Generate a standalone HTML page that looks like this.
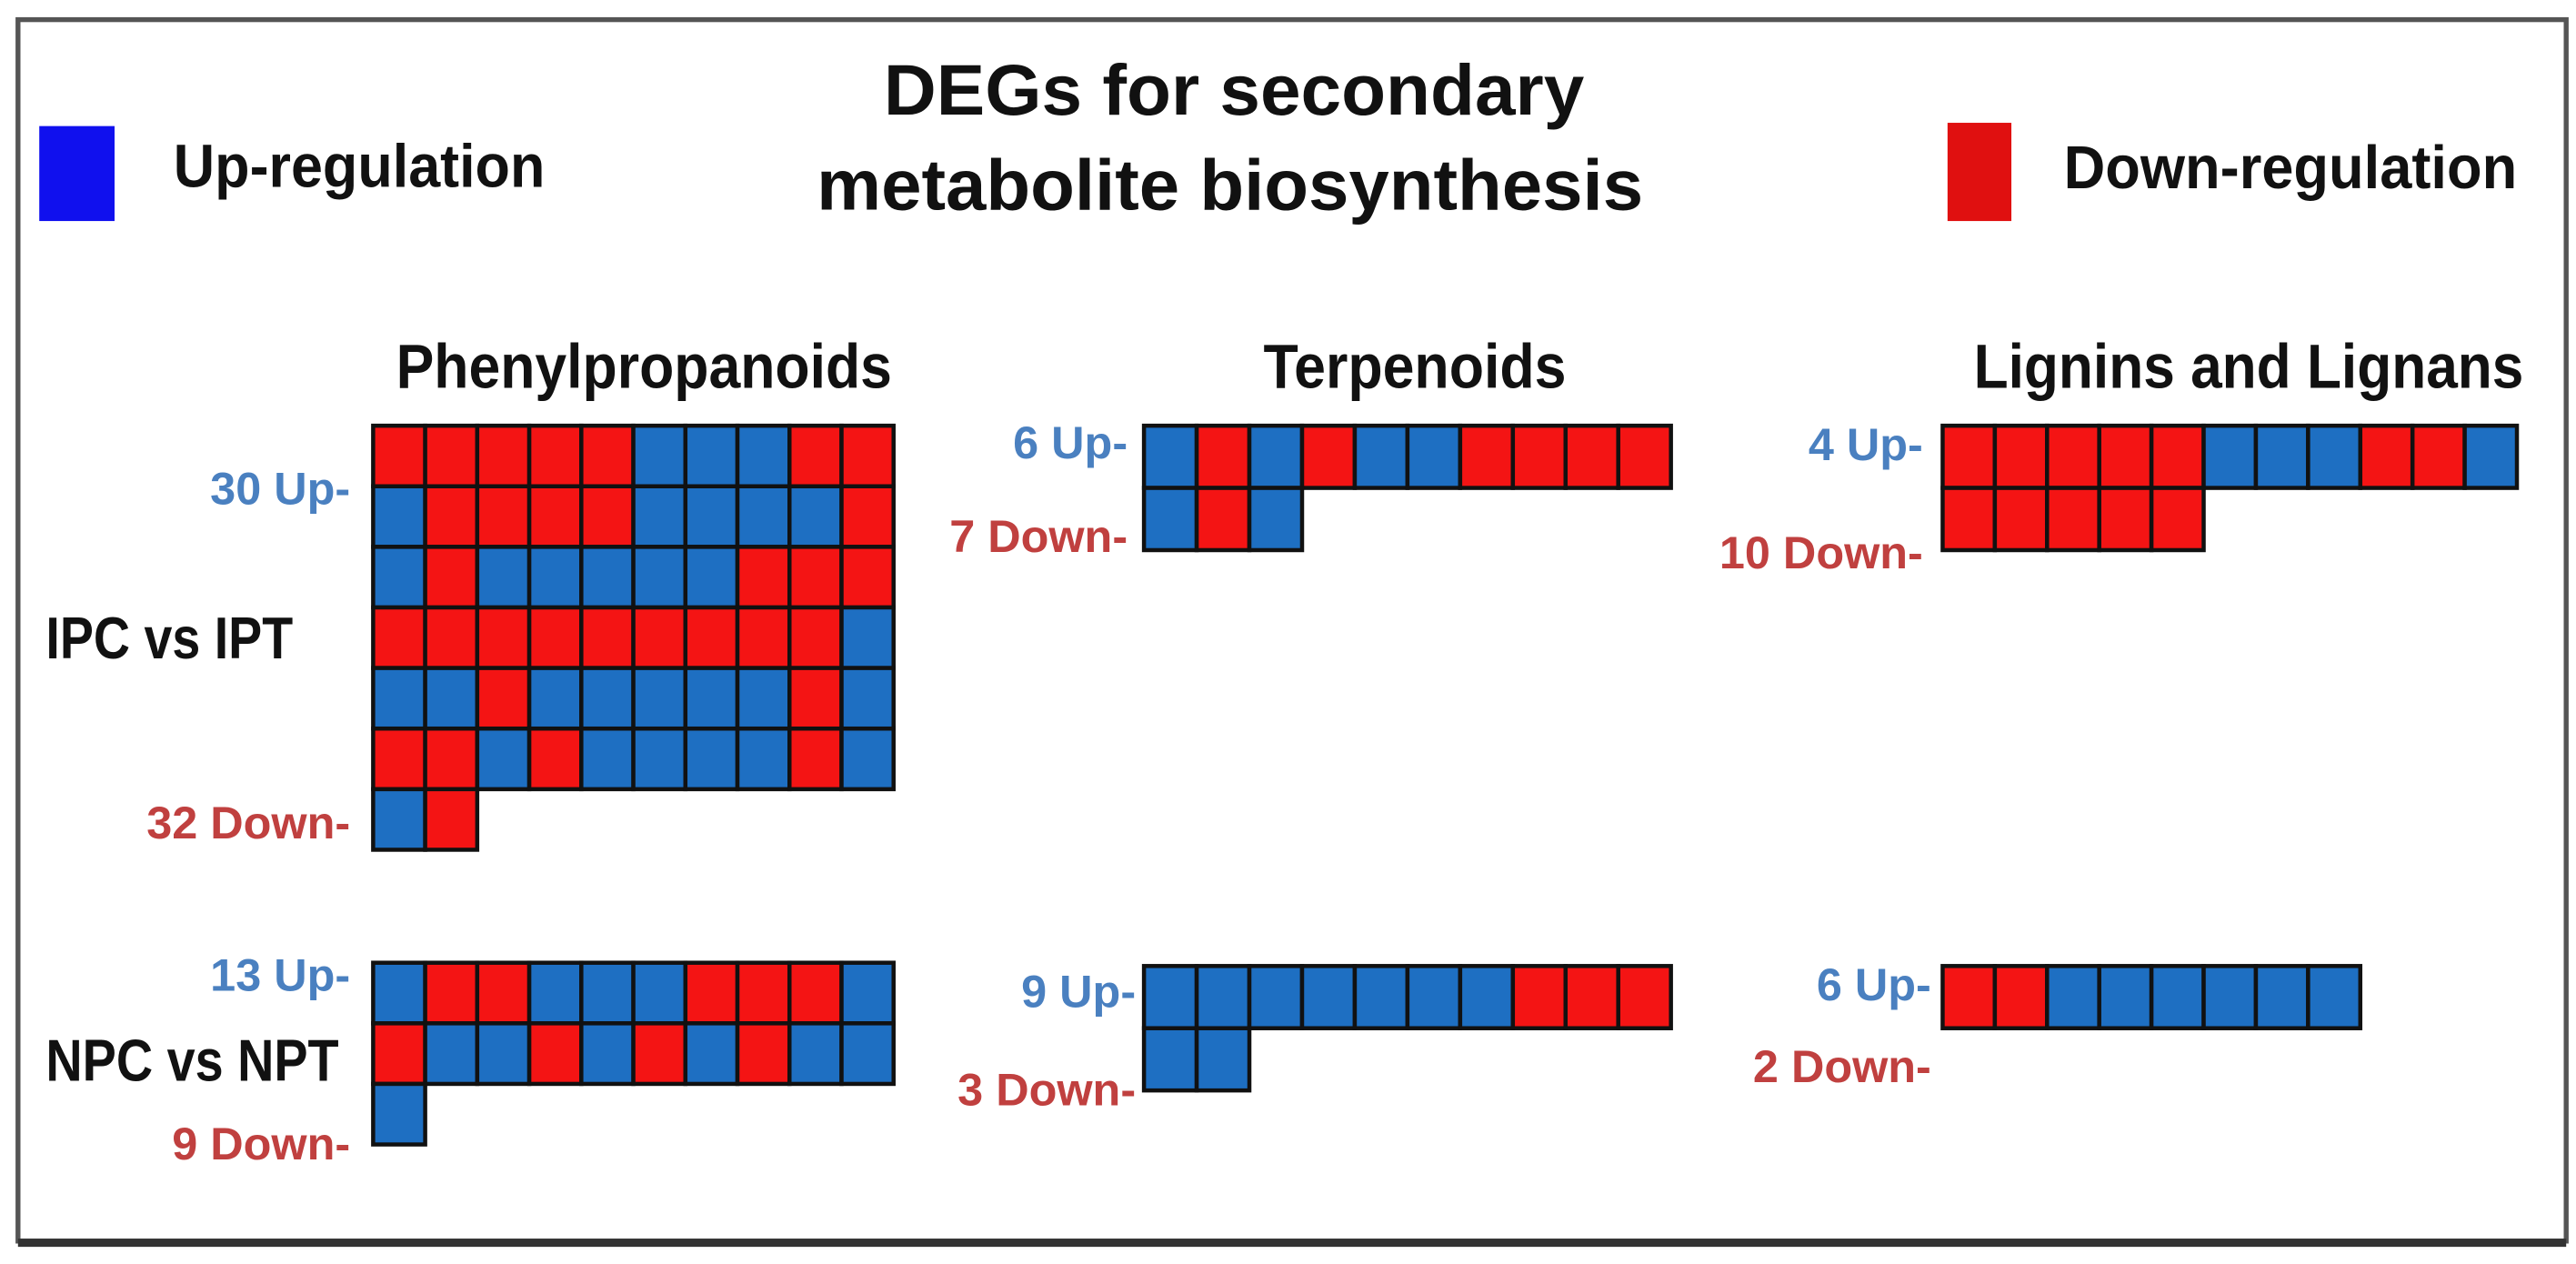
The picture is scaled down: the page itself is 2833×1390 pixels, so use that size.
<!DOCTYPE html>
<html><head><meta charset="utf-8"><style>
html,body{margin:0;padding:0;background:#fff;width:2833px;height:1390px;overflow:hidden}
svg text{font-family:"Liberation Sans",sans-serif;font-weight:bold}
</style></head><body>
<svg id="chart" width="2833" height="1390" viewBox="0 0 1574 772" preserveAspectRatio="none" xmlns="http://www.w3.org/2000/svg">
<rect x="11" y="12" width="1557" height="746" fill="#fff" stroke="#555" stroke-width="3"/>
<line x1="11" y1="759" x2="1568" y2="759" stroke="#333" stroke-width="5"/>
<text x="540" y="70" font-size="44" textLength="428" lengthAdjust="spacingAndGlyphs" fill="#111">DEGs for secondary</text>
<text x="499" y="128" font-size="44" textLength="505" lengthAdjust="spacingAndGlyphs" fill="#111">metabolite biosynthesis</text>
<rect x="24" y="77" width="46" height="58" fill="#1010ee"/>
<text x="106" y="114" font-size="37" textLength="227" lengthAdjust="spacingAndGlyphs" fill="#111">Up-regulation</text>
<rect x="1190" y="75" width="39" height="60" fill="#e01010"/>
<text x="1261" y="115" font-size="37" textLength="277" lengthAdjust="spacingAndGlyphs" fill="#111">Down-regulation</text>
<text x="28" y="402" font-size="36" textLength="151" lengthAdjust="spacingAndGlyphs" fill="#111">IPC vs IPT</text>
<text x="28" y="660" font-size="36" textLength="179" lengthAdjust="spacingAndGlyphs" fill="#111">NPC vs NPT</text>
<text x="242" y="237" font-size="38" textLength="303" lengthAdjust="spacingAndGlyphs" fill="#111">Phenylpropanoids</text>
<text x="772" y="237" font-size="38" textLength="185" lengthAdjust="spacingAndGlyphs" fill="#111">Terpenoids</text>
<text x="1206" y="237" font-size="38" textLength="336" lengthAdjust="spacingAndGlyphs" fill="#111">Lignins and Lignans</text>
<g id="cells"></g>
<g id="labels"></g>
</svg>
<script>
const panelNames = ["phenyl-ipc","terp-ipc","lignin-ipc","phenyl-npc","terp-npc","lignin-npc"];
const panelGrids = [
 ["RRRRRBBBRR","BRRRRBBBBR","BRBBBBBRRR","RRRRRRRRRB","BBRBBBBBRB","RRBRBBBBRB","BR"],
 ["BRBRBBRRRR","BRB"],
 ["RRRRRBBBRRB","RRRRR"],
 ["BRRBBBRRRB","RBBRBRBRBB","B"],
 ["BBBBBBBRRR","BB"],
 ["RRBBBBBB"]
];
const upLabels = ["30 Up-","6 Up-","4 Up-","13 Up-","9 Up-","6 Up-"];
const downLabels = ["32 Down-","7 Down-","10 Down-","9 Down-","3 Down-","2 Down-"];
const layout = [
 {x:228,y:260,cw:31.8,ch:37,uy:308,dy:512,lx:214},
 {x:699,y:260,cw:32.2,ch:38,uy:280,dy:337,lx:689},
 {x:1187,y:260,cw:31.9,ch:38,uy:281,dy:347,lx:1175},
 {x:228,y:588,cw:31.8,ch:37,uy:605,dy:708,lx:214},
 {x:699,y:590,cw:32.2,ch:38,uy:615,dy:675,lx:694},
 {x:1187,y:590,cw:31.9,ch:38,uy:611,dy:661,lx:1180}
];
const NS="http://www.w3.org/2000/svg";
const cells=document.getElementById('cells'), labels=document.getElementById('labels');
panelGrids.forEach((grid,p)=>{
  const L=layout[p];
  grid.forEach((row,r)=>{
    row.split('').forEach((c,k)=>{
      const e=document.createElementNS(NS,'rect');
      e.setAttribute('x',L.x+k*L.cw);e.setAttribute('y',L.y+r*L.ch);
      e.setAttribute('width',L.cw);e.setAttribute('height',L.ch);
      e.setAttribute('fill',c==='R'?'#f41414':'#1e6fc2');
      e.setAttribute('stroke','#111');e.setAttribute('stroke-width','2.5');
      
      
      cells.appendChild(e);
    });
  });
  const u=document.createElementNS(NS,'text');
  u.setAttribute('x',L.lx);u.setAttribute('y',L.uy);u.setAttribute('font-size','28');
  u.setAttribute('text-anchor','end');u.setAttribute('fill','#4a80c0');u.textContent=upLabels[p];
  
  
  labels.appendChild(u);
  const d=document.createElementNS(NS,'text');
  d.setAttribute('x',L.lx);d.setAttribute('y',L.dy);d.setAttribute('font-size','28');
  d.setAttribute('text-anchor','end');d.setAttribute('fill','#c0403f');d.textContent=downLabels[p];
  
  
  labels.appendChild(d);
});
</script>
</body></html>
